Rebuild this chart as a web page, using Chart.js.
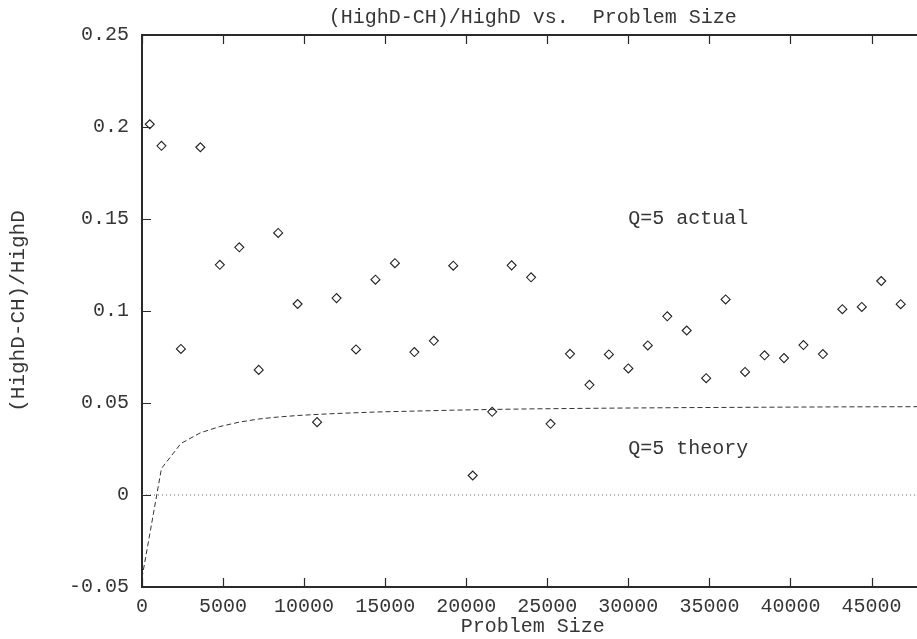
<!DOCTYPE html>
<html>
<head>
<meta charset="utf-8">
<script src="https://cdn.jsdelivr.net/npm/chart.js@4.4.1/dist/chart.umd.min.js"></script>
<style>
  html, body { margin: 0; padding: 0; overflow: hidden; background: #fff; }
  canvas { display: block; }
</style>
</head>
<body>
<canvas id="c" width="929" height="639"></canvas>
<script>
// Measured (HighD-CH)/HighD ratio for Q=5 at each problem size
const problemSize = [480, 1200, 2400, 3600, 4800, 6000, 7200, 8400, 9600, 10800,
  12000, 13200, 14400, 15600, 16800, 18000, 19200, 20400, 21600, 22800,
  24000, 25200, 26400, 27600, 28800, 30000, 31200, 32400, 33600, 34800,
  36000, 37200, 38400, 39600, 40800, 42000, 43200, 44400, 45600, 46800];
const actualRatio = [0.2015, 0.1898, 0.0794, 0.1890, 0.1251, 0.1346, 0.0680, 0.1424, 0.1038, 0.0396,
  0.1070, 0.0791, 0.1170, 0.1260, 0.0777, 0.0838, 0.1246, 0.0106, 0.0452, 0.1248,
  0.1183, 0.0387, 0.0767, 0.0599, 0.0764, 0.0688, 0.0813, 0.0971, 0.0894, 0.0635,
  0.1063, 0.0669, 0.0759, 0.0744, 0.0815, 0.0766, 0.1010, 0.1022, 0.1163, 0.1037];

// Theoretical Q=5 curve
const theorySize = [0, 1200, 2400, 3600, 4800, 6000, 7200, 8400, 9600, 10800,
  12000, 14400, 16800, 19200, 21600, 24000, 28800, 33600, 38400, 43200, 48200];
const theoryRatio = [-0.045, 0.0144, 0.0280, 0.0338, 0.0372, 0.0396, 0.0413, 0.0424, 0.0432, 0.0438,
  0.0443, 0.0451, 0.0456, 0.0461, 0.0465, 0.0468, 0.0472, 0.0475, 0.0477, 0.0479, 0.0480];

// Zero reference line
const zeroSize = [0, 48200];
const zeroRatio = [0, 0];

// Axis ticks
const xTickValues = [0, 5000, 10000, 15000, 20000, 25000, 30000, 35000, 40000, 45000];
const yTickValues = [-0.05, 0, 0.05, 0.1, 0.15, 0.2, 0.25];
const yTickLabels = ['-0.05', '0', '0.05', '0.1', '0.15', '0.2', '0.25'];

// In-plot labels, anchored in data coordinates
const curveNotes = [
  { text: 'Q=5 actual', x: 30000, y: 0.15 },
  { text: 'Q=5 theory', x: 30000, y: 0.025 }
];

const FONT_FAMILY = "'Liberation Mono', 'Courier New', monospace";
const INK = '#2a2a2a';
const TEXT = '#363636';
const X_MIN = 0, X_MAX = 48200, Y_MIN = -0.05, Y_MAX = 0.25;

Chart.defaults.font.family = FONT_FAMILY;
Chart.defaults.font.size = 20;
Chart.defaults.color = TEXT;

const toPoints = (xs, ys) => xs.map((x, i) => ({ x, y: ys[i] }));

// Inward tick marks on the frame, gnuplot style
const frameTicks = {
  id: 'frameTicks',
  afterDraw(chart) {
    const { ctx, chartArea: a, scales } = chart;
    const len = 9;
    ctx.save();
    ctx.strokeStyle = INK;
    ctx.lineWidth = 1.2;
    ctx.beginPath();
    xTickValues.forEach(v => {
      const px = Math.round(scales.x.getPixelForValue(v)) + 0.5;
      ctx.moveTo(px, a.bottom); ctx.lineTo(px, a.bottom - len);
      ctx.moveTo(px, a.top); ctx.lineTo(px, a.top + len);
    });
    yTickValues.forEach(v => {
      const py = Math.round(scales.y.getPixelForValue(v)) + 0.5;
      ctx.moveTo(a.left, py); ctx.lineTo(a.left + len, py);
    });
    ctx.stroke();
    ctx.restore();
  }
};

// Curve captions
const noteLabels = {
  id: 'noteLabels',
  afterDatasetsDraw(chart) {
    const { ctx, scales } = chart;
    ctx.save();
    ctx.font = '20px ' + FONT_FAMILY;
    ctx.fillStyle = TEXT;
    ctx.textAlign = 'left';
    ctx.textBaseline = 'middle';
    curveNotes.forEach(n => {
      ctx.fillText(n.text, scales.x.getPixelForValue(n.x), scales.y.getPixelForValue(n.y));
    });
    ctx.restore();
  }
};

const fixedTicks = (values) => (scale) => {
  scale.ticks = values.map(v => ({ value: v }));
};

new Chart(document.getElementById('c'), {
  type: 'scatter',
  data: {
    datasets: [
      {
        label: 'zero',
        data: toPoints(zeroSize, zeroRatio),
        showLine: true,
        borderColor: '#666',
        borderWidth: 1,
        borderDash: [1, 3],
        pointRadius: 0,
        fill: false
      },
      {
        label: 'Q=5 theory',
        data: toPoints(theorySize, theoryRatio),
        showLine: true,
        borderColor: '#333',
        borderWidth: 1,
        borderDash: [5, 3],
        pointRadius: 0,
        tension: 0,
        fill: false
      },
      {
        label: 'Q=5 actual',
        data: toPoints(problemSize, actualRatio),
        showLine: false,
        pointStyle: 'rectRot',
        pointRadius: 4.5,
        pointBorderWidth: 1.1,
        pointBorderColor: '#222',
        pointBackgroundColor: 'rgba(255,255,255,0)'
      }
    ]
  },
  options: {
    responsive: false,
    animation: false,
    devicePixelRatio: 1,
    layout: { padding: 0 },
    plugins: {
      legend: { display: false },
      tooltip: { enabled: false },
      title: { display: false }
    },
    scales: {
      x: {
        type: 'linear',
        position: 'bottom',
        min: X_MIN, max: X_MAX,
        afterBuildTicks: fixedTicks(xTickValues),
        afterFit: (s) => { s.height = 52; },
        grid: { display: false, drawTicks: false },
        border: { display: true, color: INK, width: 2 },
        ticks: { padding: 8, maxRotation: 0, autoSkip: false,
                 callback: (v) => String(v) },
        title: { display: true, text: 'Problem Size',
                 padding: { top: 0, bottom: 0 } }
      },
      xTop: {
        type: 'linear',
        position: 'top',
        min: X_MIN, max: X_MAX,
        afterFit: (s) => { s.height = 35; },
        grid: { display: false, drawTicks: false },
        border: { display: true, color: INK, width: 2 },
        ticks: { display: false },
        title: { display: true, text: '(HighD-CH)/HighD vs.  Problem Size',
                 padding: { top: 6, bottom: 0 } }
      },
      y: {
        type: 'linear',
        position: 'left',
        min: Y_MIN, max: Y_MAX,
        afterBuildTicks: fixedTicks(yTickValues),
        afterFit: (s) => { s.width = 142; },
        grid: { display: false, drawTicks: false },
        border: { display: true, color: INK, width: 2 },
        ticks: { padding: 13, autoSkip: false,
                 callback: (v) => yTickLabels[yTickValues.findIndex(t => Math.abs(t - v) < 1e-9)] },
        title: { display: true, text: '(HighD-CH)/HighD', font: { size: 21 },
                 padding: { top: 6, bottom: 0 } }
      }
    }
  },
  plugins: [frameTicks, noteLabels]
});
</script>
</body>
</html>
